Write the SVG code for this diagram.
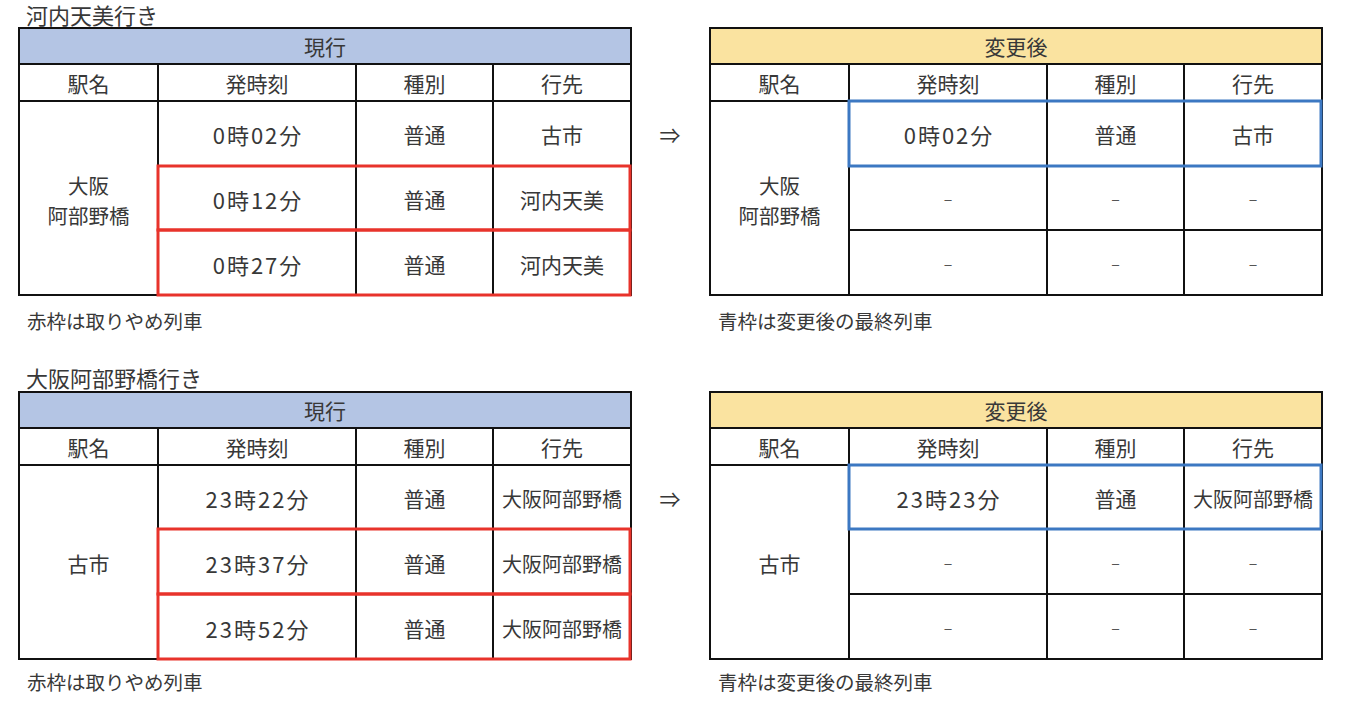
<svg xmlns="http://www.w3.org/2000/svg" width="1354" height="720" viewBox="0 0 1354 720">
<style>
text{font-family:"Noto Sans CJK JP","Noto Sans",sans-serif;fill:#383838;font-size:21px;dominant-baseline:central;text-anchor:middle}
.ttl{text-anchor:start;font-size:22px}
.cap{text-anchor:start;font-size:19.5px}
.dst{font-size:20px}
.stn{font-size:20.5px}
.dash{fill:#555;font-size:16px}
.grid{fill:none;stroke:#111;stroke-width:2}
.hb{fill:#B4C5E4;stroke:#111;stroke-width:2}
.hy{fill:#FAE3A0;stroke:#111;stroke-width:2}
.red{fill:none;stroke:#E8332B;stroke-width:3}
.blue{fill:none;stroke:#3C78C2;stroke-width:3}
.num{font-size:22px;letter-spacing:2px}
</style>
<rect width="1354" height="720" fill="#fff"/>

<g id="title-top"><text class="ttl" x="26" y="14">河内天美行き</text></g>

<g id="table-top-current">
<rect class="hb" x="19" y="28" width="612" height="36"/>
<text x="325" y="46">現行</text>
<rect class="grid" x="19" y="64" width="612" height="231"/>
<path class="grid" d="M19 101H631M158 64V295M356 64V295M493 64V295M158 166H631M158 230H631"/>
<text x="88.5" y="83">駅名</text><text x="257" y="83">発時刻</text><text x="424.5" y="83">種別</text><text x="562" y="83">行先</text>
<text class="stn" x="88.5" y="185">大阪</text><text class="stn" x="88.5" y="215">阿部野橋</text>
<text class="num" x="258" y="134">0時02分</text><text x="424.5" y="134">普通</text><text x="562" y="134">古市</text>
<text class="num" x="258" y="199">0時12分</text><text x="424.5" y="199">普通</text><text x="562" y="199">河内天美</text>
<text class="num" x="258" y="264">0時27分</text><text x="424.5" y="264">普通</text><text x="562" y="264">河内天美</text>
<rect class="red" x="158" y="166" width="472" height="64"/>
<rect class="red" x="158" y="230" width="472" height="65"/>
</g>

<g id="caption-top-left"><text class="cap" x="27" y="320">赤枠は取りやめ列車</text></g>

<g id="table-top-after">
<rect class="hy" x="710" y="28" width="612" height="36"/>
<text x="1016" y="46">変更後</text>
<rect class="grid" x="710" y="64" width="612" height="231"/>
<path class="grid" d="M710 101H1322M849 64V295M1047 64V295M1184 64V295M849 166H1322M849 230H1322"/>
<text x="779.5" y="83">駅名</text><text x="948" y="83">発時刻</text><text x="1115.5" y="83">種別</text><text x="1253" y="83">行先</text>
<text class="stn" x="779.5" y="185">大阪</text><text class="stn" x="779.5" y="215">阿部野橋</text>
<text class="num" x="949" y="134">0時02分</text><text x="1115.5" y="134">普通</text><text x="1253" y="134">古市</text>
<text class="dash" x="948" y="198">–</text><text class="dash" x="1115.5" y="198">–</text><text class="dash" x="1253" y="198">–</text>
<text class="dash" x="948" y="263">–</text><text class="dash" x="1115.5" y="263">–</text><text class="dash" x="1253" y="263">–</text>
<rect class="blue" x="849" y="101" width="472" height="65"/>
</g>

<g id="caption-top-right"><text class="cap" x="718" y="320">青枠は変更後の最終列車</text></g>

<g id="title-bottom"><text class="ttl" x="26" y="377">大阪阿部野橋行き</text></g>

<g id="table-bottom-current">
<rect class="hb" x="19" y="392" width="612" height="36"/>
<text x="325" y="410">現行</text>
<rect class="grid" x="19" y="428" width="612" height="231"/>
<path class="grid" d="M19 465H631M158 428V659M356 428V659M493 428V659M158 529H631M158 594H631"/>
<text x="88.5" y="447">駅名</text><text x="257" y="447">発時刻</text><text x="424.5" y="447">種別</text><text x="562" y="447">行先</text>
<text x="88.5" y="563">古市</text>
<text class="num" x="258" y="498">23時22分</text><text x="424.5" y="498">普通</text><text class="dst" x="562" y="498">大阪阿部野橋</text>
<text class="num" x="258" y="563">23時37分</text><text x="424.5" y="563">普通</text><text class="dst" x="562" y="563">大阪阿部野橋</text>
<text class="num" x="258" y="628">23時52分</text><text x="424.5" y="628">普通</text><text class="dst" x="562" y="628">大阪阿部野橋</text>
<rect class="red" x="158" y="529" width="472" height="65"/>
<rect class="red" x="158" y="594" width="472" height="65"/>
</g>

<g id="caption-bottom-left"><text class="cap" x="27" y="681">赤枠は取りやめ列車</text></g>

<g id="table-bottom-after">
<rect class="hy" x="710" y="392" width="612" height="36"/>
<text x="1016" y="410">変更後</text>
<rect class="grid" x="710" y="428" width="612" height="231"/>
<path class="grid" d="M710 465H1322M849 428V659M1047 428V659M1184 428V659M849 529H1322M849 594H1322"/>
<text x="779.5" y="447">駅名</text><text x="948" y="447">発時刻</text><text x="1115.5" y="447">種別</text><text x="1253" y="447">行先</text>
<text x="779.5" y="563">古市</text>
<text class="num" x="949" y="498">23時23分</text><text x="1115.5" y="498">普通</text><text class="dst" x="1253" y="498">大阪阿部野橋</text>
<text class="dash" x="948" y="562">–</text><text class="dash" x="1115.5" y="562">–</text><text class="dash" x="1253" y="562">–</text>
<text class="dash" x="948" y="627">–</text><text class="dash" x="1115.5" y="627">–</text><text class="dash" x="1253" y="627">–</text>
<rect class="blue" x="849" y="465" width="472" height="64"/>
</g>

<g id="caption-bottom-right"><text class="cap" x="718" y="681">青枠は変更後の最終列車</text></g>

<g id="connectors">
<text x="670" y="134">⇒</text>
<text x="670" y="498">⇒</text>
</g>
</svg>
